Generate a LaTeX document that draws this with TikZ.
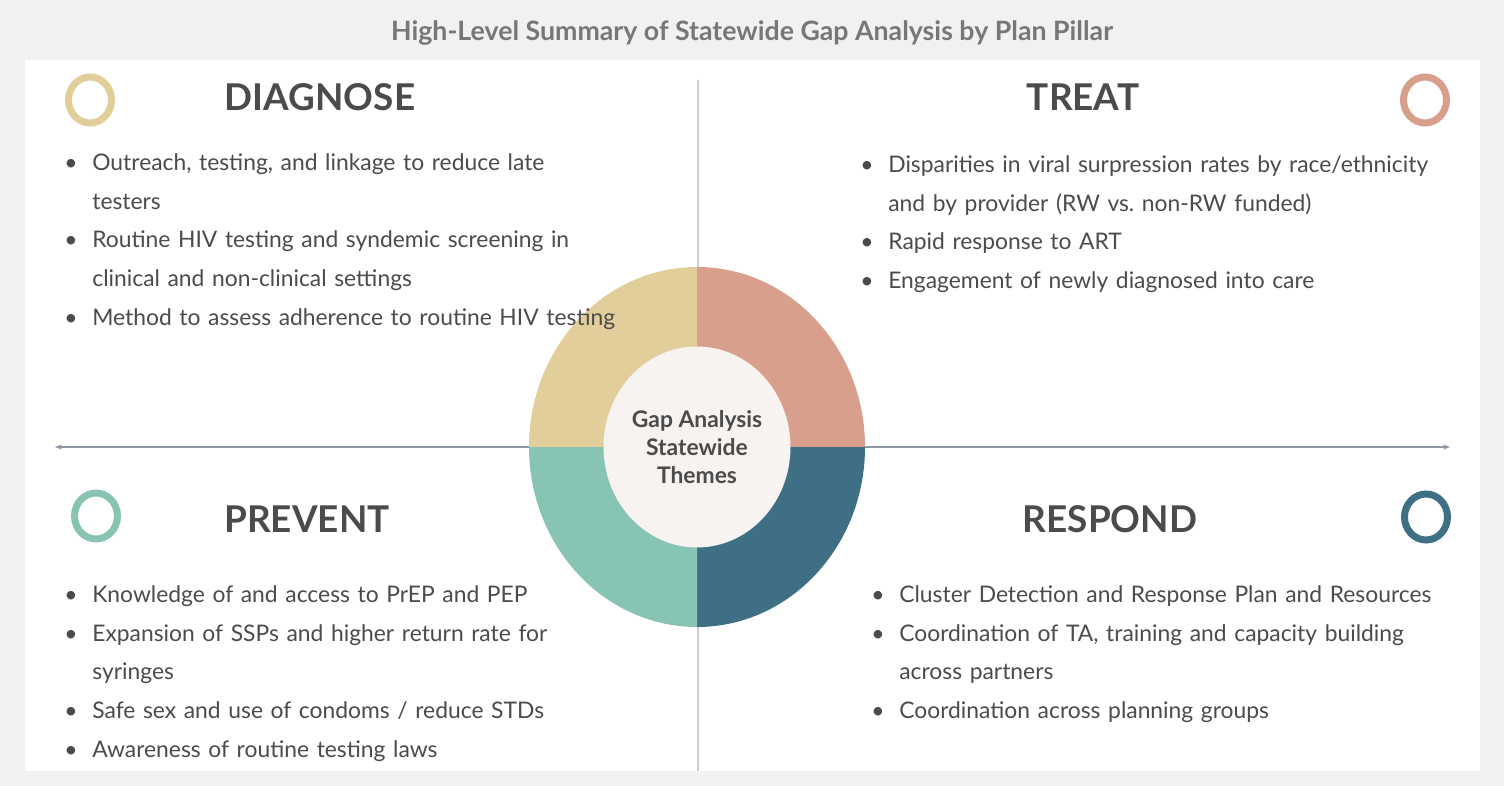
\documentclass[tikz,border=0pt]{standalone}
\usepackage{fontspec}
\setmainfont{Lato}
\usepackage{tikz}
\usetikzlibrary{arrows.meta,positioning,shapes.geometric}
\definecolor{pagegray}{HTML}{F1F1F1}
\definecolor{titlegray}{HTML}{777777}
\definecolor{inkgray}{HTML}{4B4B4B}
\definecolor{axisgray}{HTML}{8E98A2}
\definecolor{rulegray}{HTML}{C9CFD6}
\definecolor{diagtan}{HTML}{E2CE9A}
\definecolor{treatrose}{HTML}{D99F8D}
\definecolor{preventmint}{HTML}{88C4B4}
\definecolor{respondblue}{HTML}{3F6F85}
\definecolor{hubcream}{HTML}{F7F3F0}
% one bullet line with hanging indent
\newcommand{\gapitem}[1]{\par\hangindent=0.56cm\hangafter=1\noindent\makebox[0.56cm][l]{\textbullet}#1}

\begin{document}
\begin{tikzpicture}[x=0.02cm,y=-0.02cm,
    heading/.style={font=\fontsize{21}{24}\selectfont\bfseries,text=inkgray,inner sep=0},
    itemlist/.style={font=\fontsize{13}{22.1}\selectfont,text=inkgray,text width=12cm,align=left,inner sep=0,anchor=north west},
    ring/.style={ellipse,draw=#1,line width=0.14cm,minimum width=0.86cm,minimum height=0.92cm,inner sep=0}]
  % page and panel
  \fill[pagegray] (0,0) rectangle (1504,786);
  \fill[white] (25,60) rectangle (1480,771);
  \node[font=\fontsize{15.2}{17}\selectfont\bfseries,text=titlegray] (title) at (752,33) {High-Level Summary of Statewide Gap Analysis by Plan Pillar};

  % axes
  \coordinate (ctr) at (697,447);
  \coordinate (axisL) at (55,447);
  \coordinate (axisR) at (1450,447);
  \coordinate (ruleT) at (698,80);
  \coordinate (ruleB) at (698,771);
  \draw[rulegray,line width=0.04cm] (ruleT) -- (ruleB);
  \draw[axisgray,line width=0.03cm,{Stealth[length=4pt,width=3pt]}-{Stealth[length=4pt,width=3pt]}] (axisL) -- (axisR);

  % donut quarters
  \foreach \a/\c in {0/respondblue,90/preventmint,180/diagtan,270/treatrose}{
    \fill[\c] (ctr) -- ++(\a:168 and 180) arc[start angle=\a,delta angle=90,x radius=168,y radius=180] -- cycle;
  }
  \node[ellipse,fill=hubcream,minimum width=3.74cm,minimum height=4.02cm,inner sep=0,align=center,
        font=\fontsize{13}{15.9}\selectfont\bfseries,text=inkgray] (hub) at (ctr) {Gap Analysis\\Statewide\\Themes};

  % quadrant headings and rings
  \node[ring=diagtan] (diagring) at (90,100) {};
  \node[ring=treatrose] (treatring) at (1425,100) {};
  \node[ring=preventmint] (prevring) at (96,516) {};
  \node[ring=respondblue] (respring) at (1426,517) {};
  \node[heading] (diaghead) at (320,97) {DIAGNOSE};
  \node[heading] (treathead) at (1083,97) {TREAT};
  \node[heading] (prevhead) at (307,519) {PREVENT};
  \node[heading] (resphead) at (1110,519) {RESPOND};

  % bullet lists
  \node[itemlist] (diaglist) at (64,131) {%
    \gapitem{Outreach, testing, and linkage to reduce late\newline testers}
    \gapitem{Routine HIV testing and syndemic screening in\newline clinical and non-clinical settings}
    \gapitem{Method to assess adherence to routine HIV testing}};
  \node[itemlist] (treatlist) at (860,133) {%
    \gapitem{Disparities in viral surpression rates by race/ethnicity\newline and by provider (RW vs.\ non-RW funded)}
    \gapitem{Rapid response to ART}
    \gapitem{Engagement of newly diagnosed into care}};
  \node[itemlist] (prevlist) at (64,563) {%
    \gapitem{Knowledge of and access to PrEP and PEP}
    \gapitem{Expansion of SSPs and higher return rate for\newline syringes}
    \gapitem{Safe sex and use of condoms / reduce STDs}
    \gapitem{Awareness of routine testing laws}};
  \node[itemlist] (resplist) at (871,563) {%
    \gapitem{Cluster Detection and Response Plan and Resources}
    \gapitem{Coordination of TA, training and capacity building\newline across partners}
    \gapitem{Coordination across planning groups}};
\end{tikzpicture}
\end{document}
